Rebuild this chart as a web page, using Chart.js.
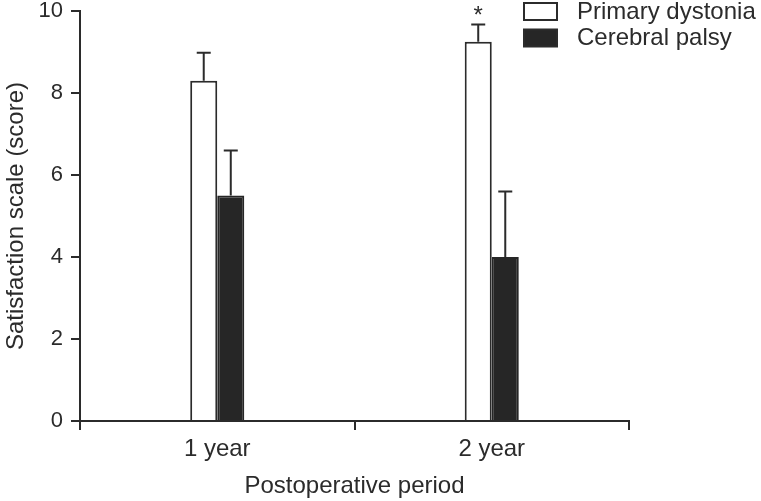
<!DOCTYPE html>
<html>
<head>
<meta charset="utf-8">
<script src="https://cdn.jsdelivr.net/npm/chart.js@4.4.1/dist/chart.umd.min.js"></script>
<style>
  html, body { margin: 0; padding: 0; background: #fff; }
  #wrap { width: 761px; height: 501px; }
</style>
</head>
<body>
<div id="wrap"><canvas id="satisfactionChart"></canvas></div>
<script>
const periods = ['1 year', '2 year'];
const seriesNames = ['Primary dystonia', 'Cerebral palsy'];
const primaryDystonia = [8.3, 9.25];
const primaryDystoniaErr = [0.68, 0.42];
const cerebralPalsy = [5.5, 4.0];
const cerebralPalsyErr = [1.1, 1.6];
const primaryMarks = ['', '*'];
const cerebralMarks = ['', ''];
const yTicks = [0, 2, 4, 6, 8, 10];

const ink = '#2b2b2b';
const font = 'Liberation Sans, Arial, Helvetica, sans-serif';

// upward-only error bars with a small cap, plus significance marks
const errorBars = {
    id: 'errorBars',
    afterDatasetsDraw(chart) {
        const ctx = chart.ctx;
        const yScale = chart.scales.y;
        ctx.save();
        ctx.strokeStyle = ink;
        ctx.lineWidth = 2;
        chart.data.datasets.forEach((ds, i) => {
            const meta = chart.getDatasetMeta(i);
            meta.data.forEach((bar, j) => {
                const top = yScale.getPixelForValue(ds.data[j] + ds.errors[j]);
                ctx.beginPath();
                ctx.moveTo(bar.x, bar.y);
                ctx.lineTo(bar.x, top);
                ctx.moveTo(bar.x - 7, top);
                ctx.lineTo(bar.x + 7, top);
                ctx.stroke();
                if (ds.marks[j]) {
                    ctx.fillStyle = ink;
                    ctx.font = '24px ' + font;
                    ctx.textAlign = 'center';
                    ctx.textBaseline = 'middle';
                    ctx.fillText(ds.marks[j], bar.x, top - 8);
                }
            });
        });
        ctx.restore();
    }
};

// legend in the top right corner, over the plot
const cornerLegend = {
    id: 'cornerLegend',
    afterDraw(chart) {
        const ctx = chart.ctx;
        ctx.save();
        chart.data.datasets.forEach((ds, i) => {
            const y = 3 + i * 26.5;
            ctx.fillStyle = ds.backgroundColor;
            ctx.fillRect(524, y, 33, 17);
            ctx.strokeStyle = ink;
            ctx.lineWidth = 2;
            ctx.strokeRect(524, y, 33, 17);
            ctx.fillStyle = ink;
            ctx.font = '24px ' + font;
            ctx.textAlign = 'left';
            ctx.textBaseline = 'middle';
            ctx.fillText(ds.label, 577, y + 9);
        });
        ctx.restore();
    }
};

const ctx = document.getElementById('satisfactionChart').getContext('2d');
const satisfactionChart = new Chart(ctx, {
    type: 'bar',
    data: {
        labels: periods,
        datasets: [{
            label: seriesNames[0],
            data: primaryDystonia,
            errors: primaryDystoniaErr,
            marks: primaryMarks,
            backgroundColor: '#ffffff',
            borderColor: ink,
            borderWidth: 2,
            categoryPercentage: 0.197,
            barPercentage: 1
        }, {
            label: seriesNames[1],
            data: cerebralPalsy,
            errors: cerebralPalsyErr,
            marks: cerebralMarks,
            backgroundColor: '#262626',
            borderColor: '#262626',
            borderWidth: 2,
            categoryPercentage: 0.197,
            barPercentage: 1
        }]
    },
    options: {
        responsive: true,
        maintainAspectRatio: false,
        animation: false,
        layout: { padding: { top: 11, right: 132, bottom: 0, left: 0 } },
        plugins: {
            legend: { display: false },
            tooltip: { enabled: false }
        },
        scales: {
            x: {
                grid: {
                    offset: true,
                    drawOnChartArea: false,
                    drawTicks: true,
                    tickLength: 9,
                    color: ink,
                    lineWidth: 2
                },
                border: { display: true, color: ink, width: 2 },
                ticks: {
                    color: ink,
                    padding: 5,
                    font: { family: font, size: 24 }
                },
                title: {
                    display: true,
                    text: 'Postoperative period',
                    color: ink,
                    padding: { top: 0, bottom: 0 },
                    font: { family: font, size: 24 }
                },
                afterFit(scale) {
                    scale.height = 80;
                    scale.paddingLeft = 0;
                    scale.paddingRight = 0;
                }
            },
            y: {
                min: 0,
                max: 10,
                afterBuildTicks(scale) { scale.ticks = yTicks.map(v => ({ value: v })); },
                grid: {
                    drawOnChartArea: false,
                    drawTicks: true,
                    tickLength: 9,
                    color: ink,
                    lineWidth: 2
                },
                border: { display: true, color: ink, width: 2 },
                ticks: {
                    color: ink,
                    padding: 8,
                    font: { family: font, size: 22, lineHeight: 1 }
                },
                title: {
                    display: true,
                    text: 'Satisfaction scale (score)',
                    color: ink,
                    padding: { top: 2, bottom: 0 },
                    font: { family: font, size: 24 }
                },
                afterFit(scale) {
                    scale.width = 80;
                    scale.paddingTop = 0;
                    scale.paddingBottom = 0;
                }
            }
        }
    },
    plugins: [errorBars, cornerLegend]
});
</script>
</body>
</html>
